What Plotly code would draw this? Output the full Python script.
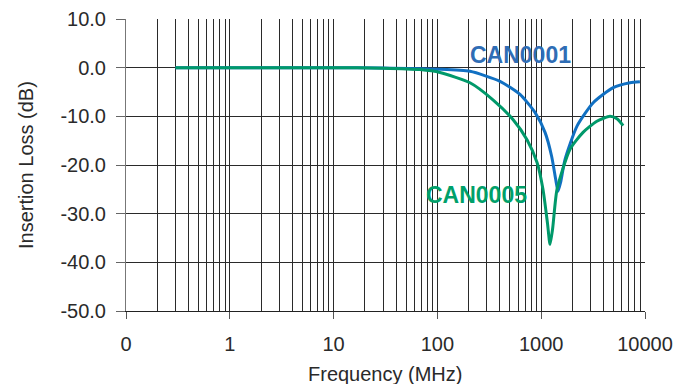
import plotly.graph_objects as go

# Data (frequency in MHz, insertion loss in dB)
can0001_freq = [0.3, 1, 10, 30, 100, 206, 401, 625, 871, 1089, 1260, 1380, 1452, 1540, 1695, 2213, 3170, 4940, 7170, 8930]
can0001_loss = [0.0, 0.0, 0.0, -0.05, -0.3, -0.75, -2.8, -5.5, -9.2, -13.3, -18.2, -23.0, -25.4, -23.5, -18.9, -12.0, -7.2, -4.1, -3.1, -2.9]

can0005_freq = [0.3, 1, 10, 30, 68, 106, 206, 343, 537, 730, 912, 1040, 1150, 1216, 1290, 1420, 1890, 2530, 3440, 4600, 5370, 6160]
can0005_loss = [0.0, 0.0, 0.0, -0.1, -0.4, -1.0, -3.1, -6.6, -10.7, -14.8, -19.5, -25.0, -32.0, -36.3, -33.0, -25.0, -16.8, -13.3, -11.0, -10.0, -10.5, -11.9]

x_tickvals = [0.1, 1, 10, 100, 1000, 10000]
x_ticktext = ["0", "1", "10", "100", "1000", "10000"]
x_minor = [m * d for d in [0.1, 1, 10, 100, 1000] for m in range(2, 10)]
y_tickvals = [-50, -40, -30, -20, -10, 0, 10]
y_ticktext = ["-50.0", "-40.0", "-30.0", "-20.0", "-10.0", "0.0", "10.0"]

blue = "#1170c2"
green = "#00996a"
grid = "#2a2a2a"
font_family = "Liberation Sans, Arial, Helvetica"
text_color = "#2a2a2a"

# page body has an 8px margin; plot area targeted at x 126..645, y 19..311 in the window
W, H = 682, 376
L, R, T, B = 118, 45, 11, 73
pw, ph = W - L - R, H - T - B

fig = go.Figure()
fig.add_trace(go.Scatter(x=can0001_freq, y=can0001_loss, mode="lines",
                         line=dict(color=blue, width=3, shape="spline", smoothing=0.6),
                         name="CAN0001"))
fig.add_trace(go.Scatter(x=can0005_freq, y=can0005_loss, mode="lines",
                         line=dict(color=green, width=3, shape="spline", smoothing=0.6),
                         name="CAN0005"))

fig.add_annotation(x=2.805, y=2.7, xref="x", yref="y", text="<b>CAN0001</b>", showarrow=False,
                   xanchor="center", yanchor="middle",
                   font=dict(family=font_family, size=23, color="#2f6db5"))
fig.add_annotation(x=2.372, y=-26.1, xref="x", yref="y", text="<b>CAN0005</b>", showarrow=False,
                   xanchor="center", yanchor="middle",
                   font=dict(family=font_family, size=23, color="#00a06a"))

# axis titles (paper coords relative to plot area)
fig.add_annotation(x=(385 - 126) / pw, y=(311 - 374) / ph, xref="paper", yref="paper",
                   text="Frequency (MHz)", showarrow=False, xanchor="center", yanchor="middle",
                   font=dict(family=font_family, size=20, color=text_color))
fig.add_annotation(x=(26 - 126) / pw, y=(311 - 165) / ph, xref="paper", yref="paper",
                   text="Insertion Loss (dB)", showarrow=False, textangle=-90,
                   xanchor="center", yanchor="middle",
                   font=dict(family=font_family, size=20, color=text_color))

fig.update_layout(
    width=W, height=H,
    margin=dict(l=L, r=R, t=T, b=B),
    paper_bgcolor="white", plot_bgcolor="white",
    showlegend=False,
    font=dict(family=font_family, size=20, color=text_color),
    xaxis=dict(
        type="log", range=[-1, 4], automargin=False,
        tickvals=x_tickvals, ticktext=x_ticktext,
        showgrid=True, gridcolor=grid, gridwidth=1,
        ticks="outside", ticklen=7, tickcolor="#555", ticklabelstandoff=8,
        tickfont=dict(size=20, color=text_color),
        showline=True, linecolor="#222", linewidth=1,
        minor=dict(tickvals=x_minor, showgrid=True, gridcolor=grid, gridwidth=1, ticks=""),
        zeroline=False,
    ),
    yaxis=dict(
        range=[-50, 10], automargin=False,
        tickvals=y_tickvals, ticktext=y_ticktext,
        showgrid=True, gridcolor=grid, gridwidth=1,
        ticks="outside", ticklen=9, tickcolor="#666", ticklabelstandoff=6,
        tickfont=dict(size=20, color=text_color),
        showline=True, linecolor="#777", linewidth=1,
        zeroline=False,
    ),
)

fig.write_html("out.html")
